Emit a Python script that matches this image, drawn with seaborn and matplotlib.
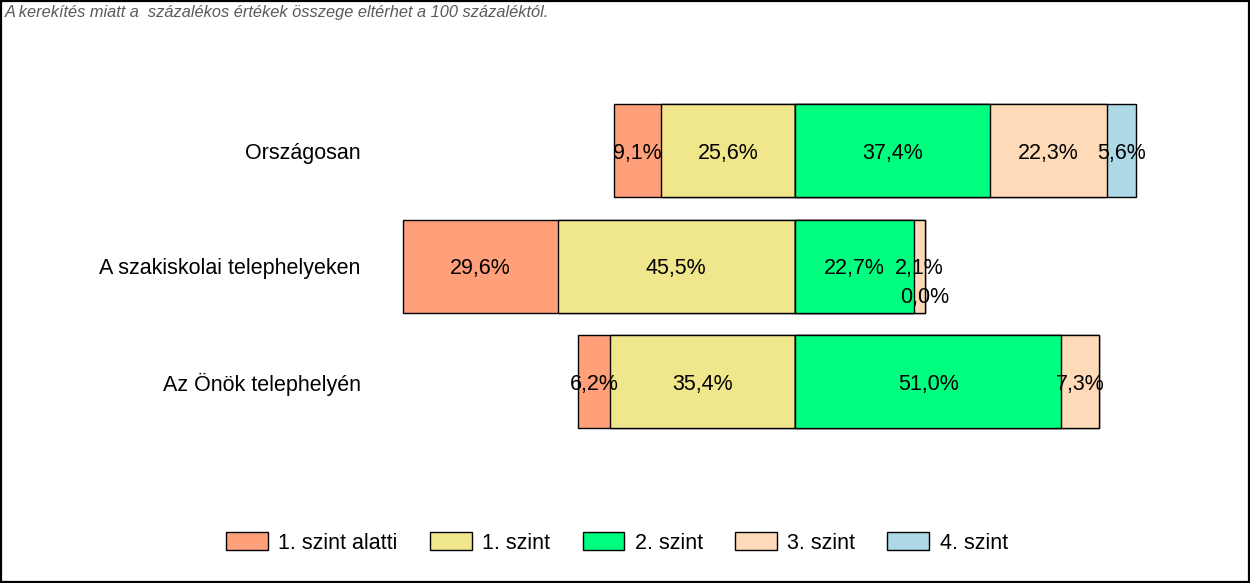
import matplotlib
matplotlib.use("Agg")
import matplotlib.pyplot as plt
import seaborn as sns
import pandas as pd
import numpy as np
from matplotlib.patches import Patch, Rectangle

categories = ["Országosan", "A szakiskolai telephelyeken", "Az Önök telephelyén"]
levels = ["1. szint alatti", "1. szint", "2. szint", "3. szint", "4. szint"]
below1 = [9.1, 29.6, 6.2]
level1 = [25.6, 45.5, 35.4]
level2 = [37.4, 22.7, 51.0]
level3 = [22.3, 2.1, 7.3]
level4 = [5.6, 0.0, np.nan]
colors = ["#FFA07A", "#F0E68C", "#00FF7F", "#FFDAB9", "#ADD8E6"]
note = "A kerekítés miatt a  százalékos értékek összege eltérhet a 100 százaléktól."

sns.set_style("white")
plt.rcParams["font.family"] = ["Liberation Sans", "DejaVu Sans"]

W, H = 1250, 583
fig = plt.figure(figsize=(W / 100, H / 100), dpi=100)
ax = fig.add_axes([380 / W, 1 - 491 / H, 850 / W, 450 / H])

df = pd.DataFrame({"cat": categories, "b1": below1, "l1": level1, "l2": level2,
                   "l3": level3, "l4": level4}).fillna({"l4": 0})
df["neg_a"] = -(df["b1"] + df["l1"])
df["neg_b"] = -df["l1"]
df["pos_e"] = df["l2"] + df["l3"] + df["l4"]
df["pos_d"] = df["l2"] + df["l3"]
df["pos_c"] = df["l2"]

bw = 0.805
for col, c in [("neg_a", colors[0]), ("neg_b", colors[1]), ("pos_e", colors[4]),
               ("pos_d", colors[3]), ("pos_c", colors[2])]:
    sns.barplot(data=df, x=col, y="cat", orient="h", color=c, saturation=1,
                edgecolor="black", linewidth=1, width=bw, errorbar=None, ax=ax)

ax.set_xlim(-79.5, 83.3)
ax.set_ylim(2.944, -0.952)
ax.set_xlabel("")
ax.set_ylabel("")
ax.set_xticks([])
for s in ax.spines.values():
    s.set_visible(False)
ax.tick_params(axis="y", length=0, pad=14, labelsize=15.5, labelcolor="black")

def fmt(v):
    return f"{v:.1f}%".replace(".", ",")

for i in range(len(categories)):
    b, a1, a2, a3, a4 = below1[i], level1[i], level2[i], level3[i], level4[i]
    segs = [(-(a1 + b), -a1, b), (-a1, 0, a1), (0, a2, a2), (a2, a2 + a3, a3)]
    if not np.isnan(a4):
        segs.append((a2 + a3, a2 + a3 + a4, a4))
    for k, (x0, x1, v) in enumerate(segs):
        y = i
        xc = (x0 + x1) / 2
        if v == 0:
            y = i + 0.25
        ax.text(xc, y, fmt(v), ha="center", va="center_baseline", fontsize=15.5,
                color="black")

handles = [Patch(facecolor=c, edgecolor="black", linewidth=1) for c in colors]
fig.legend(handles, levels, loc="center", bbox_to_anchor=(617 / W, 1 - 543 / H),
           ncol=5, frameon=False, fontsize=15.5, handlelength=1.95, handleheight=0.88,
           handletextpad=0.47, columnspacing=1.5, labelcolor="black")

fig.text(5 / W, 1 - 13 / H, note, fontsize=11.8, style="italic", color="#5a5a5a",
         ha="left", va="center")

fig.patches.append(Rectangle((0.001, 0.0015), 0.998, 0.997, transform=fig.transFigure,
                             fill=False, edgecolor="black", linewidth=1.6))

fig.savefig("out.png", dpi=100)
